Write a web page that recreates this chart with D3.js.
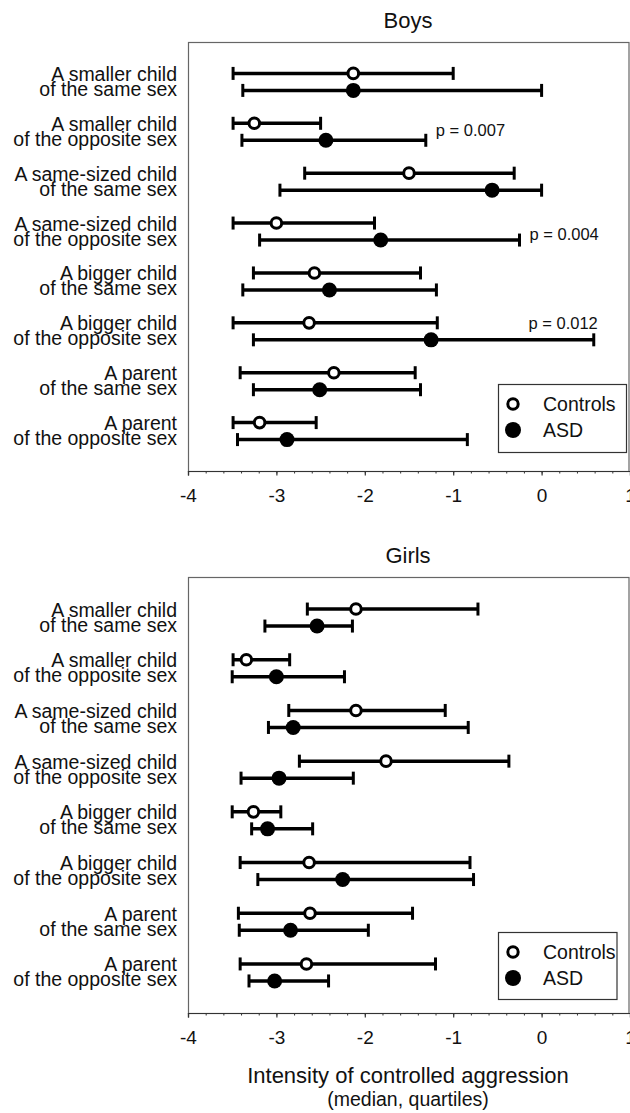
<!DOCTYPE html>
<html>
<head>
<meta charset="utf-8">
<script src="https://cdn.jsdelivr.net/npm/d3@7"></script>
<style>
  html, body { margin: 0; padding: 0; background: #fff; }
  svg { display: block; font-family: "Liberation Sans", Arial, sans-serif; }
</style>
</head>
<body>
<svg id="chart" width="630" height="1113"></svg>
<script>
// ---------- DATA ----------
const labelLine1 = ["A smaller child", "A smaller child", "A same-sized child", "A same-sized child",
                    "A bigger child", "A bigger child", "A parent", "A parent"];
const labelLine2 = ["of the same sex", "of the opposite sex", "of the same sex", "of the opposite sex",
                    "of the same sex", "of the opposite sex", "of the same sex", "of the opposite sex"];

const xTicks = [-4, -3, -2, -1, 0, 1];

// Boys
const boysControlsMedian = [-2.13, -3.25, -1.50, -3.00, -2.57, -2.63, -2.35, -3.19];
const boysControlsQ1     = [-3.49, -3.49, -2.68, -3.49, -3.26, -3.49, -3.41, -3.49];
const boysControlsQ3     = [-1.00, -2.50, -0.31, -1.89, -1.37, -1.18, -1.43, -2.55];
const boysASDMedian      = [-2.13, -2.44, -0.56, -1.82, -2.40, -1.25, -2.51, -2.88];
const boysASDQ1          = [-3.38, -3.39, -2.96, -3.19, -3.38, -3.26, -3.26, -3.44];
const boysASDQ3          = [ 0.00, -1.31,  0.00, -0.25, -1.19,  0.59, -1.37, -0.84];
const boysPRows   = [1, 3, 5];
const boysPTexts  = ["p = 0.007", "p = 0.004", "p = 0.012"];

// Girls
const girlsControlsMedian = [-2.10, -3.34, -2.10, -1.76, -3.26, -2.63, -2.62, -2.66];
const girlsControlsQ1     = [-2.65, -3.49, -2.86, -2.74, -3.50, -3.41, -3.43, -3.41];
const girlsControlsQ3     = [-0.72, -2.85, -1.09, -0.37, -2.95, -0.81, -1.46, -1.20];
const girlsASDMedian      = [-2.54, -3.00, -2.81, -2.97, -3.10, -2.25, -2.84, -3.02];
const girlsASDQ1          = [-3.13, -3.50, -3.09, -3.40, -3.28, -3.21, -3.42, -3.31];
const girlsASDQ3          = [-2.14, -2.23, -0.83, -2.13, -2.59, -0.77, -1.96, -2.41];

const seriesNames = ["Controls", "ASD"];
const xTitle = "Intensity of controlled aggression";
const xSubtitle = "(median, quartiles)";

// ---------- DRAW ----------
const svg = d3.select("#chart");
const INK = "#111";

function drawPanel(opts) {
  const { title, top, bottom, ctrl, asd, pRows, pTexts, legend } = opts;
  const left = 188, right = 630;
  const x = d3.scaleLinear().domain([-4, 1]).range([left, right]);
  const idx = d3.range(labelLine1.length);
  const y = d3.scalePoint().domain(idx).range([top, bottom]).padding(0.8);
  const off = 8.5;

  const g = svg.append("g");

  // title
  g.append("text").attr("x", 408).attr("y", top - 14)
    .attr("text-anchor", "middle").attr("font-size", 22).attr("fill", INK).text(title);

  // frame
  g.append("rect").attr("x", left + 0.5).attr("y", top + 0.5)
    .attr("width", 628.5 - left).attr("height", bottom - top)
    .attr("fill", "none").attr("stroke", "#666").attr("stroke-width", 1.2);

  // x axis
  const ax = g.append("g").attr("transform", `translate(0,${bottom})`);
  ax.call(d3.axisBottom(x).tickValues(d3.range(-4, 1.0001, 0.2)).tickSize(2.5).tickFormat(""));
  ax.call(s => s.select(".domain").remove());
  ax.selectAll(".tick line").attr("stroke", "#333").attr("stroke-width", 1);
  const ax2 = g.append("g").attr("transform", `translate(0,${bottom})`);
  ax2.call(d3.axisBottom(x).tickValues(xTicks).tickSize(4.5).tickPadding(13)
    .tickFormat(d => d < 0 ? "-" + Math.abs(d) : String(d)));
  ax2.select(".domain").attr("stroke", "#333").attr("stroke-width", 1.2);
  ax2.selectAll(".tick line").attr("stroke", "#333").attr("stroke-width", 1.2);
  ax2.selectAll(".tick text").attr("font-size", 19).attr("fill", INK)
    .attr("font-family", "'Liberation Sans', Arial, sans-serif");

  // category labels
  idx.forEach(i => {
    const t = g.append("text").attr("text-anchor", "end").attr("font-size", 19.5).attr("fill", INK);
    t.append("tspan").attr("x", 177).attr("y", y(i) - 1).text(labelLine1[i]);
    t.append("tspan").attr("x", 177).attr("y", y(i) + 14).text(labelLine2[i]);
  });

  function series(data, dy, filled) {
    const sg = g.append("g");
    idx.forEach(i => {
      const yy = y(i) + dy;
      sg.append("line").attr("x1", x(data.q1[i])).attr("x2", x(data.q3[i]))
        .attr("y1", yy).attr("y2", yy).attr("stroke", "#000").attr("stroke-width", 3.5);
      [data.q1[i], data.q3[i]].forEach(v => {
        sg.append("line").attr("x1", x(v)).attr("x2", x(v))
          .attr("y1", yy - 6.5).attr("y2", yy + 6.5).attr("stroke", "#000").attr("stroke-width", 3);
      });
      if (filled) {
        sg.append("circle").attr("cx", x(data.med[i])).attr("cy", yy).attr("r", 7.5).attr("fill", "#000");
      } else {
        sg.append("circle").attr("cx", x(data.med[i])).attr("cy", yy).attr("r", 5.3)
          .attr("fill", "#fff").attr("stroke", "#000").attr("stroke-width", 3);
      }
    });
  }
  series(ctrl, -off, false);
  series(asd, off, true);

  // p annotations
  if (pRows) {
    pRows.forEach((r, k) => {
      const last = k === pRows.length - 1;
      const xx = x(asd.q3[r]) + (last ? 4 : 10);
      const yy = y(r) + (k === 0 ? 4.5 : (k === 1 ? 8 : -2));
      g.append("text").attr("x", xx).attr("y", yy).attr("font-size", 16.5)
        .attr("text-anchor", last ? "end" : "start").attr("fill", INK).text(pTexts[k]);
    });
  }

  // legend
  const lg = g.append("g");
  lg.append("rect").attr("x", 498.5).attr("y", legend.top + 0.5)
    .attr("width", legend.width).attr("height", legend.h)
    .attr("fill", "#fff").attr("stroke", "#333").attr("stroke-width", 1.2);
  lg.append("circle").attr("cx", 513).attr("cy", legend.top + 20).attr("r", 5.2)
    .attr("fill", "#fff").attr("stroke", "#000").attr("stroke-width", 3);
  lg.append("circle").attr("cx", 513).attr("cy", legend.top + 46).attr("r", 8).attr("fill", "#000");
  lg.append("text").attr("x", 543).attr("y", legend.top + 27).attr("font-size", 19.5)
    .attr("fill", INK).text(seriesNames[0]);
  lg.append("text").attr("x", 543).attr("y", legend.top + 53).attr("font-size", 19.5)
    .attr("fill", INK).text(seriesNames[1]);
}

drawPanel({
  title: "Boys", top: 42, bottom: 471,
  ctrl: { med: boysControlsMedian, q1: boysControlsQ1, q3: boysControlsQ3 },
  asd:  { med: boysASDMedian, q1: boysASDQ1, q3: boysASDQ3 },
  pRows: boysPRows, pTexts: boysPTexts,
  legend: { top: 384, width: 128, h: 68 }
});

drawPanel({
  title: "Girls", top: 577, bottom: 1013,
  ctrl: { med: girlsControlsMedian, q1: girlsControlsQ1, q3: girlsControlsQ3 },
  asd:  { med: girlsASDMedian, q1: girlsASDQ1, q3: girlsASDQ3 },
  legend: { top: 932, width: 118.5, h: 67 }
});

svg.append("text").attr("x", 408).attr("y", 1083).attr("text-anchor", "middle")
  .attr("font-size", 22).attr("fill", INK).text(xTitle);
svg.append("text").attr("x", 408).attr("y", 1106).attr("text-anchor", "middle")
  .attr("font-size", 19.5).attr("fill", INK).text(xSubtitle);
</script>
</body>
</html>
